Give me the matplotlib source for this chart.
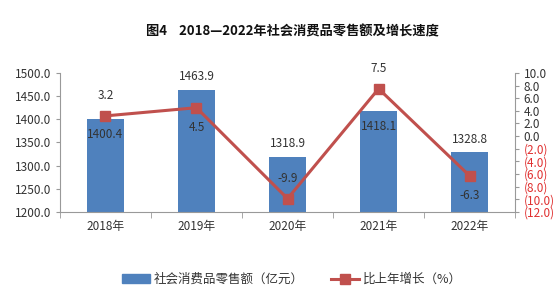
import matplotlib
matplotlib.use("Agg")
import matplotlib.pyplot as plt
from matplotlib.lines import Line2D
from matplotlib.patches import Patch
import numpy as np

plt.rcParams['font.family'] = ['Noto Sans CJK SC', 'DejaVu Sans']

# data
years = ["2018年", "2019年", "2020年", "2021年", "2022年"]
sales = [1400.4, 1463.9, 1318.9, 1418.1, 1328.8]
growth = [3.2, 4.5, -9.9, 7.5, -6.3]
# where each label sits: True = above the point
sales_above = [False, True, True, False, True]
growth_above = [True, False, True, True, False]

bar_color = "#4F81BD"
line_color = "#C0504D"
text_color = "#333333"

fig = plt.figure(figsize=(5.54, 3.04), dpi=100)
ax = fig.add_axes([0.108, 0.303, 0.822, 0.457])
x = np.arange(len(years))

ax.bar(x, sales, width=0.4, color=bar_color, zorder=2)
ax.set_ylim(1200, 1500)
ax.set_yticks(np.arange(1200, 1501, 50))
ax.set_yticklabels([f"{v:.1f}" for v in np.arange(1200, 1501, 50)], fontsize=8.5, color=text_color)
ax.set_xlim(-0.5, len(years) - 0.5)
ax.set_xticks(x)
ax.set_xticklabels(years, fontsize=8.5, color=text_color)
ax.tick_params(axis='x', length=0, pad=6)
ax.set_xticks(np.arange(-0.5, len(years)), minor=True)
ax.tick_params(axis='x', which='minor', length=4, color="#999999")
ax.tick_params(axis='y', length=3, color="#999999", pad=3)
for s in ["top", "right"]:
    ax.spines[s].set_visible(False)
ax.spines["left"].set_color("#999999")
ax.spines["bottom"].set_color("#999999")

for i, v in enumerate(sales):
    ax.annotate(f"{v:.1f}", (x[i], v), xytext=(0, 9.5 if sales_above[i] else -11),
                textcoords="offset points", ha="center", va="center",
                fontsize=8.5, color=text_color, zorder=5)

ax2 = ax.twinx()
ax2.set_position(ax.get_position())
ax2.plot(x, growth, color=line_color, lw=2.2, marker="s", ms=7.5, zorder=3)
ax2.set_ylim(-12, 10)
ticks2 = np.arange(-12, 11, 2)
ax2.set_yticks(ticks2)
ax2.set_yticklabels([f"{v:.1f}" if v >= 0 else f"({-v:.1f})" for v in ticks2], fontsize=8.5)
for lbl, v in zip(ax2.get_yticklabels(), ticks2):
    lbl.set_color(text_color if v >= 0 else "#E03030")
ax2.tick_params(axis='y', length=3, color="#999999", pad=3)
for s in ["top", "left", "bottom"]:
    ax2.spines[s].set_visible(False)
ax2.spines["right"].set_color("#999999")

for i, v in enumerate(growth):
    ax2.annotate(f"{v:.1f}", (x[i], v), xytext=(0, 14.5 if growth_above[i] else -14),
                 textcoords="offset points", ha="center", va="center",
                 fontsize=8.5, color=text_color)

fig.text(0.527, 0.895, "图4    2018—2022年社会消费品零售额及增长速度",
         ha="center", va="center", fontsize=9.5, fontweight="bold", color="#111111")

handles = [Patch(color=bar_color),
           Line2D([], [], color=line_color, lw=2.2, marker="s", ms=6.5)]
fig.legend(handles, ["社会消费品零售额（亿元）", "比上年增长（%）"],
           loc="center", bbox_to_anchor=(0.527, 0.08), ncol=2, frameon=False,
           fontsize=9, handlelength=2.2, columnspacing=2.2, handletextpad=0.3,
           labelcolor=text_color)

fig.savefig("out.png", dpi=100)
